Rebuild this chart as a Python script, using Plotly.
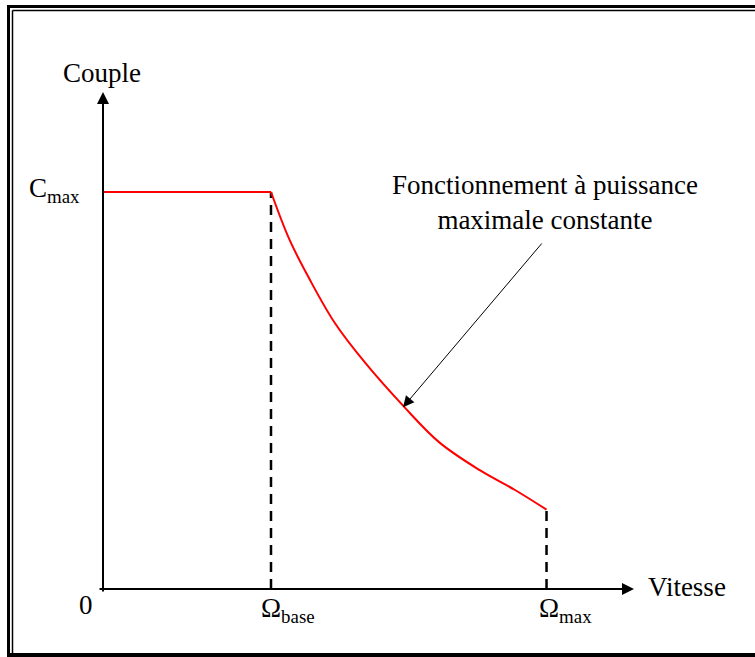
import plotly.graph_objects as go

# Normalised data: speed relative to base speed, torque relative to Cmax
omega_const = [0.0, 1.0]
couple_const = [1.0, 1.0]
omega_power = [1.0, 1.11, 1.23, 1.38, 1.56, 1.79, 2.0, 2.24, 2.45, 2.64]
couple_power = [1.0, 0.88, 0.78, 0.67, 0.57, 0.46, 0.37, 0.30, 0.25, 0.20]
omega_base = 1.0
omega_max = 2.64

W, H = 755, 657
X0, XS = 103, 168.0   # pixel of origin, px per unit
Y0, YS = 589, 397.0
xr = [-X0 / XS, (W - X0) / XS]
yr = [(Y0 - H) / YS, Y0 / YS]

def px(x):
    return (x - X0) / XS

def py(y):
    return (Y0 - y) / YS

FONT = "Liberation Serif"

fig = go.Figure()

for om, c in [(omega_base, couple_power[0]), (omega_max, couple_power[-1])]:
    fig.add_trace(go.Scatter(x=[om, om], y=[0, c], mode="lines",
                             line=dict(color="black", width=2.5, dash="10px,7px"),
                             hoverinfo="skip", showlegend=False))

fig.add_trace(go.Scatter(x=omega_const, y=couple_const, mode="lines",
                         line=dict(color="#ff0000", width=2), showlegend=False))
fig.add_trace(go.Scatter(x=omega_power, y=couple_power, mode="lines",
                         line=dict(color="#ff0000", width=2, shape="spline"),
                         showlegend=False))

ann = []
ann.append(dict(x=0, y=py(92), ax=0, ay=py(593), xref="x", yref="y", axref="x", ayref="y",
                showarrow=True, arrowhead=2, arrowsize=1.2, arrowwidth=2, arrowcolor="black",
                text=""))
ann.append(dict(x=px(634), y=0, ax=px(98), ay=0, xref="x", yref="y", axref="x", ayref="y",
                showarrow=True, arrowhead=2, arrowsize=1.2, arrowwidth=2, arrowcolor="black",
                text=""))
ann.append(dict(x=1.786, y=0.458, ax=px(543), ay=py(242), xref="x", yref="y", axref="x",
                ayref="y", showarrow=True, arrowhead=2, arrowsize=2.2, arrowwidth=1,
                arrowcolor="black", text=""))

def label(text, x, y, xanchor="center"):
    ann.append(dict(x=x, y=y, xref="x", yref="y", text=text, showarrow=False,
                    xanchor=xanchor, yanchor="middle",
                    font=dict(family=FONT, size=27, color="black")))

label("Couple", px(102), py(73))
label("C<sub>max</sub>", px(54), py(190))
label("0", px(86), py(605))
label("Ω<sub>base</sub>", px(288), py(610))
label("Ω<sub>max</sub>", px(565), py(610))
label("Vitesse", px(646), py(587), xanchor="left")
label("Fonctionnement à puissance<br>maximale constante", px(545), py(202))

shapes = []
def pline(x0, y0, x1, y1, w):
    shapes.append(dict(type="line", xref="paper", yref="paper",
                       x0=x0 / W, x1=x1 / W, y0=1 - y0 / H, y1=1 - y1 / H,
                       line=dict(color="black", width=w)))

pline(7, 6.5, W, 6.5, 3)
pline(8.5, 5, 8.5, H, 3)
pline(12.5, 10.5, W, 10.5, 1.5)
pline(12.5, 10.5, 12.5, 655, 1.5)
pline(7, 655, W, 655, 4)

fig.update_layout(
    width=W, height=H, margin=dict(l=0, r=0, t=0, b=0),
    paper_bgcolor="white", plot_bgcolor="white",
    font=dict(family=FONT),
    xaxis=dict(range=xr, visible=False, fixedrange=True),
    yaxis=dict(range=yr, visible=False, fixedrange=True),
    annotations=ann, shapes=shapes, showlegend=False,
)

fig.write_html("out.html", post_script="document.body.style.margin='0';",
               config={"displayModeBar": False})
